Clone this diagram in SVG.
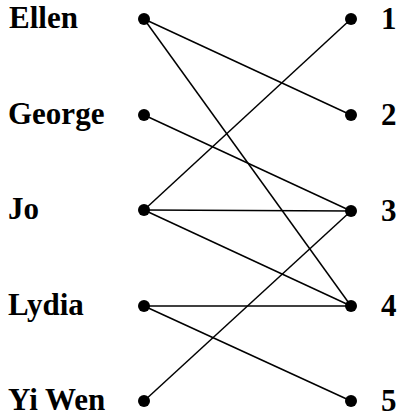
<svg xmlns="http://www.w3.org/2000/svg" width="403" height="419" viewBox="0 0 403 419">
<style>
.lbl{font-family:"Liberation Serif","Times New Roman",serif;font-weight:bold;font-size:31px;fill:#000}
.dot{fill:#000}
.edge{stroke:#000;stroke-width:1.5;fill:none}
</style>
<rect width="403" height="419" fill="#fff"/>
<g id="connectors">
<line class="edge" x1="144" y1="19" x2="351" y2="115"/>
<line class="edge" x1="144" y1="19" x2="351" y2="306"/>
<line class="edge" x1="144" y1="115" x2="351" y2="211"/>
<line class="edge" x1="144" y1="210" x2="351" y2="19"/>
<line class="edge" x1="144" y1="210" x2="351" y2="211"/>
<line class="edge" x1="144" y1="210" x2="351" y2="306"/>
<line class="edge" x1="144" y1="306" x2="351" y2="306"/>
<line class="edge" x1="144" y1="306" x2="351" y2="401"/>
<line class="edge" x1="144" y1="401" x2="351" y2="211"/>
</g>
<g id="Ellen"><circle class="dot" cx="144" cy="19" r="6"/><text class="lbl" x="9" y="28">Ellen</text></g>
<g id="George"><circle class="dot" cx="144" cy="115" r="6"/><text class="lbl" x="8" y="124">George</text></g>
<g id="Jo"><circle class="dot" cx="144" cy="210" r="6"/><text class="lbl" x="8" y="219">Jo</text></g>
<g id="Lydia"><circle class="dot" cx="144" cy="306" r="6"/><text class="lbl" x="8" y="315">Lydia</text></g>
<g id="YiWen"><circle class="dot" cx="144" cy="401" r="6"/><text class="lbl" x="8" y="410">Yi Wen</text></g>
<g id="n1"><circle class="dot" cx="351" cy="19" r="6"/><text class="lbl" x="381" y="29">1</text></g>
<g id="n2"><circle class="dot" cx="351" cy="115" r="6"/><text class="lbl" x="381" y="125">2</text></g>
<g id="n3"><circle class="dot" cx="351" cy="211" r="6"/><text class="lbl" x="381" y="221">3</text></g>
<g id="n4"><circle class="dot" cx="351" cy="306" r="6"/><text class="lbl" x="381" y="316">4</text></g>
<g id="n5"><circle class="dot" cx="351" cy="401" r="6"/><text class="lbl" x="381" y="411">5</text></g>
</svg>
